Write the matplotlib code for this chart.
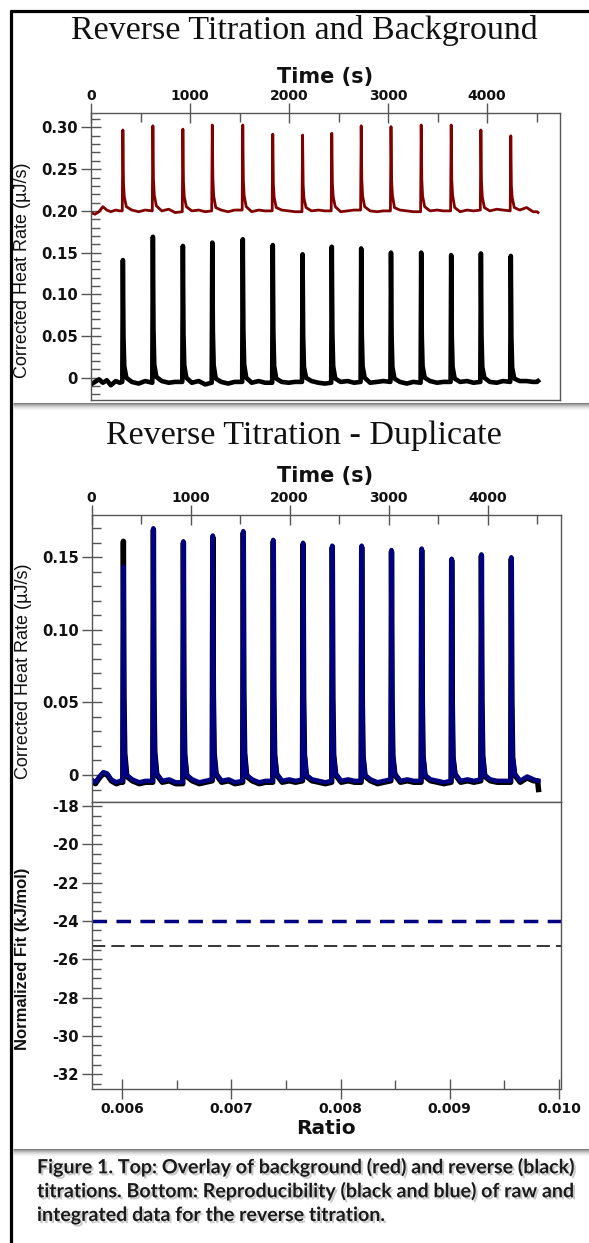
import matplotlib
matplotlib.use("Agg")
import matplotlib.pyplot as plt
from matplotlib.ticker import MultipleLocator
from matplotlib.lines import Line2D
from matplotlib.font_manager import FontProperties
import matplotlib.patheffects as pe

W, H, DPI = 589, 1243, 100

# ------------------------------------------------------------------ data
time_s = [
    0, 40, 80, 120, 160, 200, 250, 290,
    316, 322, 328, 336, 357, 412, 482, 547,
    619, 625, 631, 639, 660, 715, 785, 850,
    922, 928, 934, 942, 963, 1018, 1088, 1153,
    1219, 1225, 1231, 1239, 1260, 1315, 1385, 1450,
    1527, 1533, 1539, 1547, 1568, 1623, 1693, 1758,
    1830, 1836, 1842, 1850, 1871, 1926, 1996, 2061,
    2131, 2137, 2143, 2151, 2172, 2227, 2297, 2362,
    2426, 2432, 2438, 2446, 2467, 2522, 2592, 2657,
    2723, 2729, 2735, 2743, 2764, 2819, 2889, 2954,
    3024, 3030, 3036, 3044, 3065, 3120, 3190, 3255,
    3329, 3335, 3341, 3349, 3370, 3425, 3495, 3560,
    3632, 3638, 3644, 3652, 3673, 3728, 3798, 3863,
    3932, 3938, 3944, 3952, 3973, 4028, 4098, 4163,
    4234, 4240, 4246, 4254, 4275, 4330, 4400, 4465,
    4505, 4515]

background_red = [
    0.198, 0.196, 0.199, 0.205, 0.201, 0.199, 0.201, 0.200,
    0.200, 0.297, 0.234, 0.217, 0.205, 0.201, 0.199, 0.201,
    0.200, 0.302, 0.238, 0.219, 0.206, 0.200, 0.202, 0.198,
    0.199, 0.298, 0.235, 0.217, 0.205, 0.200, 0.201, 0.199,
    0.200, 0.303, 0.239, 0.218, 0.204, 0.201, 0.199, 0.201,
    0.201, 0.303, 0.237, 0.218, 0.205, 0.199, 0.201, 0.200,
    0.200, 0.292, 0.232, 0.216, 0.204, 0.201, 0.200, 0.199,
    0.199, 0.291, 0.231, 0.215, 0.204, 0.200, 0.201, 0.200,
    0.200, 0.293, 0.233, 0.217, 0.205, 0.199, 0.200, 0.201,
    0.201, 0.302, 0.238, 0.218, 0.205, 0.200, 0.199, 0.200,
    0.200, 0.301, 0.237, 0.219, 0.204, 0.201, 0.200, 0.199,
    0.199, 0.303, 0.238, 0.218, 0.205, 0.200, 0.201, 0.200,
    0.200, 0.303, 0.237, 0.219, 0.204, 0.199, 0.201, 0.200,
    0.201, 0.297, 0.235, 0.217, 0.204, 0.200, 0.202, 0.201,
    0.200, 0.290, 0.230, 0.216, 0.204, 0.201, 0.204, 0.199,
    0.199, 0.198]

reverse_black = [
    -0.008, -0.005, -0.002, -0.006, -0.003, -0.009, -0.004, -0.006,
    -0.005, 0.141, 0.048, 0.014, 0.000, -0.005, -0.007, -0.004,
    -0.006, 0.169, 0.058, 0.016, 0.001, -0.004, -0.006, -0.005,
    -0.005, 0.158, 0.053, 0.015, 0.000, -0.006, -0.004, -0.008,
    -0.006, 0.162, 0.055, 0.015, -0.001, -0.005, -0.007, -0.005,
    -0.005, 0.166, 0.057, 0.016, 0.000, -0.006, -0.004, -0.006,
    -0.006, 0.159, 0.054, 0.014, -0.001, -0.005, -0.006, -0.005,
    -0.005, 0.148, 0.050, 0.013, 0.000, -0.004, -0.006, -0.007,
    -0.006, 0.157, 0.053, 0.014, -0.001, -0.005, -0.004, -0.006,
    -0.005, 0.155, 0.052, 0.014, 0.000, -0.006, -0.005, -0.004,
    -0.005, 0.150, 0.051, 0.013, -0.001, -0.005, -0.007, -0.005,
    -0.006, 0.150, 0.050, 0.014, 0.000, -0.004, -0.006, -0.005,
    -0.005, 0.147, 0.050, 0.013, -0.001, -0.005, -0.004, -0.006,
    -0.005, 0.149, 0.051, 0.013, 0.000, -0.005, -0.006, -0.004,
    -0.005, 0.146, 0.049, 0.012, -0.001, -0.004, -0.004, -0.005,
    -0.005, -0.004]

duplicate_black = [
    -0.004, -0.006, -0.002, 0.001, 0.000, -0.004, -0.006, -0.005,
    -0.005, 0.161, 0.055, 0.015, -0.001, -0.004, -0.006, -0.005,
    -0.005, 0.169, 0.058, 0.016, 0.000, -0.005, -0.004, -0.006,
    -0.006, 0.160, 0.054, 0.014, -0.001, -0.004, -0.006, -0.005,
    -0.004, 0.164, 0.056, 0.015, 0.000, -0.005, -0.004, -0.006,
    -0.005, 0.167, 0.057, 0.015, -0.001, -0.004, -0.006, -0.005,
    -0.005, 0.161, 0.055, 0.014, 0.000, -0.005, -0.004, -0.005,
    -0.004, 0.159, 0.054, 0.014, -0.001, -0.004, -0.005, -0.006,
    -0.005, 0.157, 0.053, 0.014, 0.000, -0.005, -0.004, -0.005,
    -0.005, 0.157, 0.053, 0.013, -0.001, -0.004, -0.006, -0.005,
    -0.004, 0.154, 0.052, 0.013, 0.000, -0.005, -0.004, -0.005,
    -0.005, 0.155, 0.053, 0.013, -0.001, -0.004, -0.005, -0.006,
    -0.005, 0.148, 0.050, 0.012, 0.000, -0.005, -0.004, -0.005,
    -0.004, 0.151, 0.051, 0.013, -0.001, -0.004, -0.005, -0.005,
    -0.005, 0.149, 0.051, 0.012, 0.000, -0.005, -0.002, -0.004,
    -0.004, -0.010]

duplicate_blue = [
    -0.003, -0.005, -0.001, 0.002, 0.001, -0.003, -0.005, -0.004,
    -0.004, 0.1435, 0.050, 0.014, 0.000, -0.003, -0.005, -0.004,
    -0.004, 0.170, 0.059, 0.016, 0.001, -0.004, -0.003, -0.005,
    -0.005, 0.161, 0.055, 0.015, 0.000, -0.003, -0.005, -0.004,
    -0.003, 0.165, 0.057, 0.015, 0.001, -0.004, -0.003, -0.005,
    -0.004, 0.168, 0.058, 0.016, 0.000, -0.003, -0.005, -0.004,
    -0.004, 0.162, 0.056, 0.015, 0.001, -0.004, -0.003, -0.004,
    -0.003, 0.160, 0.055, 0.015, 0.000, -0.003, -0.004, -0.005,
    -0.004, 0.158, 0.054, 0.014, 0.001, -0.004, -0.003, -0.004,
    -0.004, 0.158, 0.054, 0.014, 0.000, -0.003, -0.005, -0.004,
    -0.003, 0.155, 0.053, 0.014, 0.001, -0.004, -0.003, -0.004,
    -0.004, 0.156, 0.053, 0.014, 0.000, -0.003, -0.004, -0.005,
    -0.004, 0.149, 0.051, 0.013, 0.001, -0.004, -0.003, -0.004,
    -0.003, 0.152, 0.052, 0.014, 0.000, -0.003, -0.004, -0.004,
    -0.004, 0.150, 0.051, 0.013, 0.001, -0.004, -0.001, -0.003,
    -0.004, -0.004]

fit_level_blue = [-24.0]
fit_level_black = [-25.29]

time_ticks = [0, 1000, 2000, 3000, 4000]
time_labels = ["0", "1000", "2000", "3000", "4000"]
heat_ticks_top = [0, 0.05, 0.10, 0.15, 0.20, 0.25, 0.30]
heat_labels_top = ["0", "0.05", "0.10", "0.15", "0.20", "0.25", "0.30"]
heat_ticks_mid = [0, 0.05, 0.10, 0.15]
heat_labels_mid = ["0", "0.05", "0.10", "0.15"]
fit_ticks = [-18, -20, -22, -24, -26, -28, -30, -32]
fit_labels = ["-18", "-20", "-22", "-24", "-26", "-28", "-30", "-32"]
ratio_ticks = [0.006, 0.007, 0.008, 0.009, 0.010]
ratio_labels = ["0.006", "0.007", "0.008", "0.009", "0.010"]

title_top = "Reverse Titration and Background"
title_mid = "Reverse Titration - Duplicate"
caption_lines = [
    "Figure 1. Top: Overlay of background (red) and reverse (black)",
    "titrations. Bottom: Reproducibility (black and blue) of raw and",
    "integrated data for the reverse titration.",
]

# ------------------------------------------------------------------ style
SPINE = "#555555"
RED = "#800000"
NAVY = "#000080"
XFONT = FontProperties(family="DejaVu Sans", weight="bold", size=10)
YFONT = FontProperties(family="DejaVu Sans", weight="bold", size=10.7)

fig = plt.figure(figsize=(W / DPI, H / DPI), dpi=DPI)
fig.patch.set_facecolor("white")


def fx(x):
    return x / W


def fy(y):
    return 1 - y / H


def add_axes(left, top, right, bottom):
    return fig.add_axes([fx(left), fy(bottom), (right - left) / W, (bottom - top) / H])


def style_axes(ax, xpad):
    for s in ax.spines.values():
        s.set_color(SPINE)
        s.set_linewidth(1.0)
    ax.tick_params(which="both", color=SPINE, width=1.0)
    ax.tick_params(which="major", direction="inout", length=14,
                   labelcolor="#111111")
    ax.tick_params(which="minor", direction="in", length=6.5)
    ax.tick_params(axis="y", which="major", pad=2.3)
    ax.tick_params(axis="x", which="major", pad=xpad)
    for lab in ax.get_xticklabels():
        lab.set_fontproperties(XFONT)
    for lab in ax.get_yticklabels():
        lab.set_fontproperties(YFONT)


XMAX = 4737
# ---- top panel
ax1 = add_axes(91, 112.7, 560, 400)
ax1.plot(time_s, background_red, color=RED, lw=2.0, solid_joinstyle="round")
ax1.plot(time_s, reverse_black, color="black", lw=3.3, solid_joinstyle="round")
ax1.set_xlim(0, XMAX)
ax1.set_ylim(-0.0267, 0.3177)
ax1.xaxis.tick_top()
ax1.set_xticks(time_ticks, labels=time_labels)
ax1.xaxis.set_minor_locator(MultipleLocator(500))
ax1.set_yticks(heat_ticks_top, labels=heat_labels_top)
ax1.yaxis.set_minor_locator(MultipleLocator(0.01))
style_axes(ax1, 0.3)

# ---- middle panel
ax2 = add_axes(91.5, 515, 560.5, 802.3)
ax2.plot(time_s, duplicate_black, color="black", lw=3.9, solid_joinstyle="round")
ax2.plot(time_s, duplicate_blue, color=NAVY, lw=3.2, solid_joinstyle="round")
ax2.set_xlim(0, XMAX)
ax2.set_ylim(-0.0188, 0.1791)
ax2.xaxis.tick_top()
ax2.set_xticks(time_ticks, labels=time_labels)
ax2.xaxis.set_minor_locator(MultipleLocator(500))
ax2.set_yticks(heat_ticks_mid, labels=heat_labels_mid)
ax2.yaxis.set_minor_locator(MultipleLocator(0.01))
style_axes(ax2, 0.3)

# ---- lower panel
ax3 = add_axes(91.5, 802.3, 560.5, 1089.3)
ax3.set_xlim(0.00572, 0.010014)
ax3.set_ylim(-32.79, -17.81)
ax3.axhline(fit_level_blue[0], color=NAVY, lw=2.5, dashes=(4.2, 2.7))
ax3.axhline(fit_level_black[0], color="#3a3a3a", lw=1.45, dashes=(6.6, 3.0))
ax3.set_xticks(ratio_ticks, labels=ratio_labels)
ax3.xaxis.set_minor_locator(MultipleLocator(0.0005))
ax3.set_yticks(fit_ticks, labels=fit_labels)
ax3.yaxis.set_minor_locator(MultipleLocator(0.5))
style_axes(ax3, 2.5)

# ------------------------------------------------------------------ texts
fig.text(fx(304), fy(39), title_top, family="Liberation Serif", size=24.5,
         ha="center", va="baseline", color="#111111")
fig.text(fx(304), fy(444), title_mid, family="Liberation Serif", size=24.5,
         ha="center", va="baseline", color="#111111")

for yc in (77, 476):
    fig.text(fx(325.5), fy(yc), "Time (s)", family="DejaVu Sans", weight="bold",
             size=15, ha="center", va="center", color="#111111")

fig.text(fx(326), fy(1129), "Ratio", family="DejaVu Sans", weight="bold",
         size=14.5, ha="center", va="center", color="#111111")

fig.text(fx(23), fy(270), "Corrected Heat Rate (µJ/s)", family="Liberation Sans",
         size=13, rotation=90, ha="center", va="center", color="#111111")
fig.text(fx(24), fy(671), "Corrected Heat Rate (µJ/s)", family="Liberation Sans",
         size=13, rotation=90, ha="center", va="center", color="#111111")
fig.text(fx(23), fy(959), "Normalized Fit (kJ/mol)", family="Liberation Sans",
         weight="bold", size=12, rotation=90, ha="center", va="center",
         color="#111111")

# ------------------------------------------------------------------ frame & separators
fig.add_artist(Line2D([fx(11), fx(11)], [fy(9.5), fy(H + 2)], transform=fig.transFigure,
                      color="black", lw=2.3, solid_capstyle="butt"))
fig.add_artist(Line2D([fx(9.5), fx(W + 2)], [fy(11), fy(11)], transform=fig.transFigure,
                      color="black", lw=2.3, solid_capstyle="butt"))


def separator(y0):
    alphas = [0.75, 0.55, 0.4, 0.28, 0.18, 0.1, 0.05]
    for i, a in enumerate(alphas):
        fig.add_artist(Line2D([fx(13), fx(W + 2)], [fy(y0 + i), fy(y0 + i)],
                              transform=fig.transFigure, color="#555555",
                              alpha=a, lw=0.75, solid_capstyle="butt"))


separator(403)
separator(1149)

# caption, fitted to widths
renderer = fig.canvas.get_renderer()
cap_y = [1167, 1191, 1215]
target_w = 541
caps = []
for line, yc in zip(caption_lines, cap_y):
    t = fig.text(fx(37), fy(yc), line, family="Lato", weight="bold", size=14,
                 ha="left", va="center", color="#1a1a1a",
                 path_effects=[pe.SimplePatchShadow(offset=(1.5, -1.5),
                                                    shadow_rgbFace="#888888",
                                                    alpha=0.45),
                               pe.Normal()])
    caps.append(t)
w0 = caps[0].get_window_extent(renderer).width
scale = target_w / w0
for t in caps:
    t.set_fontsize(14 * scale)

fig.savefig("out.png", dpi=DPI, facecolor="white")
